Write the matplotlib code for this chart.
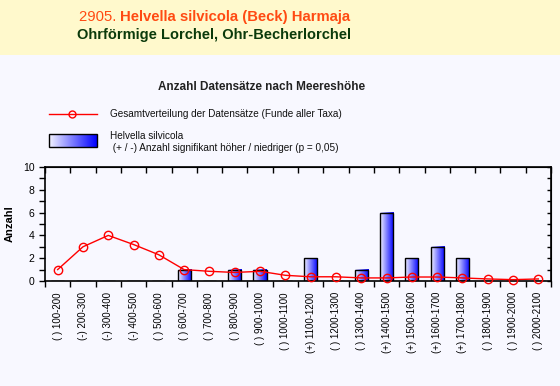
import numpy as np
import matplotlib
matplotlib.use("Agg")
import matplotlib.pyplot as plt
from matplotlib.patches import Rectangle
from matplotlib.lines import Line2D

plt.rcParams['font.family'] = ['Liberation Sans', 'DejaVu Sans']

categories = ["( ) 100-200", "(-) 200-300", "(-) 300-400", "(-) 400-500", "( ) 500-600",
              "( ) 600-700", "( ) 700-800", "( ) 800-900", "( ) 900-1000", "( ) 1000-1100",
              "(+) 1100-1200", "( ) 1200-1300", "( ) 1300-1400", "(+) 1400-1500", "(+) 1500-1600",
              "(+) 1600-1700", "(+) 1700-1800", "( ) 1800-1900", "( ) 1900-2000", "( ) 2000-2100"]
species_counts = [0, 0, 0, 0, 0, 1, 0, 1, 1, 0, 2, 0, 1, 6, 2, 3, 2, 0, 0, 0]
total_distribution = [1.0, 3.0, 4.0, 3.2, 2.3, 1.0, 0.85, 0.75, 0.85, 0.5,
                      0.37, 0.37, 0.27, 0.27, 0.35, 0.35, 0.27, 0.18, 0.12, 0.18]

W, H = 560, 386
fig = plt.figure(figsize=(W / 100, H / 100), dpi=100)
fig.patch.set_facecolor('#F8F8FF')

# overlay for header/legend decorations (pixel coordinates)
ov = fig.add_axes([0, 0, 1, 1])
ov.set_xlim(0, W)
ov.set_ylim(H, 0)
ov.axis('off')
ov.add_patch(Rectangle((0, 0), W, 55, facecolor='#FFF9CC', edgecolor='none'))
t1 = ov.text(79, 17, "2905. ", color='#FF4A12', fontsize=10.7, va='center', ha='left')
fig.canvas.draw()
bb = t1.get_window_extent()
x2 = bb.x1
ov.text(x2, 17, "Helvella silvicola (Beck) Harmaja", color='#FF4A12', fontsize=10.7,
        fontweight='bold', va='center', ha='left',
        transform=matplotlib.transforms.blended_transform_factory(
            matplotlib.transforms.IdentityTransform(), ov.transData))
ov.text(77, 35, "Ohrförmige Lorchel, Ohr-Becherlorchel", color='#0B3A0B', fontsize=10.5,
        fontweight='bold', va='center', ha='left')
ov.text(262, 87, "Anzahl Datensätze nach Meereshöhe", color='#222222', fontsize=8.5,
        fontweight='bold', va='center', ha='center')

# legend
ov.add_line(Line2D([49, 97], [114, 114], color='red', lw=1))
ov.plot([72], [114], marker='o', ms=5, mfc='none', mec='red', mew=1)
ov.text(110, 114, "Gesamtverteilung der Datensätze (Funde aller Taxa)", fontsize=7.2,
        va='center', ha='left', color='#111111')
grad = np.linspace(0, 1, 256).reshape(1, -1)
cmap = matplotlib.colors.LinearSegmentedColormap.from_list('wb', ['#F4F4FF', '#0000FF'])
ov.imshow(grad, extent=(49, 97, 147, 134), cmap=cmap, aspect='auto', zorder=2)
ov.add_patch(Rectangle((49, 134), 48, 13, facecolor='none', edgecolor='black', lw=1, zorder=3))
ov.text(110, 136, "Helvella silvicola", fontsize=7.2, va='center', ha='left', color='#111111')
ov.text(110, 148, " (+ / -) Anzahl signifikant höher / niedriger (p = 0,05)", fontsize=7.2,
        va='center', ha='left', color='#111111')

# main axes
ax = fig.add_axes([45 / W, 1 - 281 / H, (551 - 45) / W, (281 - 167) / H])
ax.set_facecolor('#F8F8FF')
x = np.arange(len(categories))
bars = ax.bar(x, species_counts, width=0.52, color='none', edgecolor='black', lw=1, zorder=3)
for b, v in zip(bars, species_counts):
    if v <= 0:
        continue
    x0, y0 = b.get_x(), b.get_y()
    ax.imshow(grad, extent=(x0, x0 + b.get_width(), y0, y0 + b.get_height()), cmap=cmap,
              aspect='auto', zorder=2, interpolation='bilinear')
ax.plot(x, total_distribution, color='red', lw=1, marker='o', ms=6, mfc='none', mec='red',
        mew=1, zorder=4, clip_on=False)
ax.set_xlim(-0.5, len(categories) - 0.5)
ax.set_ylim(0, 10)
ax.set_aspect('auto')
ax.set_yticks([0, 2, 4, 6, 8, 10])
ax.set_yticks([1, 3, 5, 7, 9], minor=True)
ax.set_xticks(x)
ax.set_xticklabels(categories, rotation=90, fontsize=7, va='top', ha='center')
ax.set_xticks(np.arange(-0.5, len(categories)), minor=True)
ax.tick_params(axis='x', which='major', length=0, pad=8)
ax.tick_params(axis='x', which='minor', length=4, width=1, direction='out')
ax.tick_params(axis='y', which='both', direction='out', length=4, width=1, labelsize=7.5,
               right=False)
ax.set_ylabel("Anzahl", fontsize=8, fontweight='bold', labelpad=6)
for s in ax.spines.values():
    s.set_linewidth(1.2)
# inward ticks on top and right
axr = ax.secondary_yaxis('right')
axr.set_yticks([0, 2, 4, 6, 8, 10])
axr.set_yticks([1, 3, 5, 7, 9], minor=True)
axr.tick_params(which='both', direction='in', length=3, width=1, labelright=False)
axt = ax.secondary_xaxis('top')
axt.set_xticks(np.arange(-0.5, len(categories)))
axt.tick_params(direction='in', length=4, width=1, labeltop=False)
axt.set_xticks([], minor=True)

fig.savefig('out.png', dpi=100, facecolor=fig.get_facecolor())
